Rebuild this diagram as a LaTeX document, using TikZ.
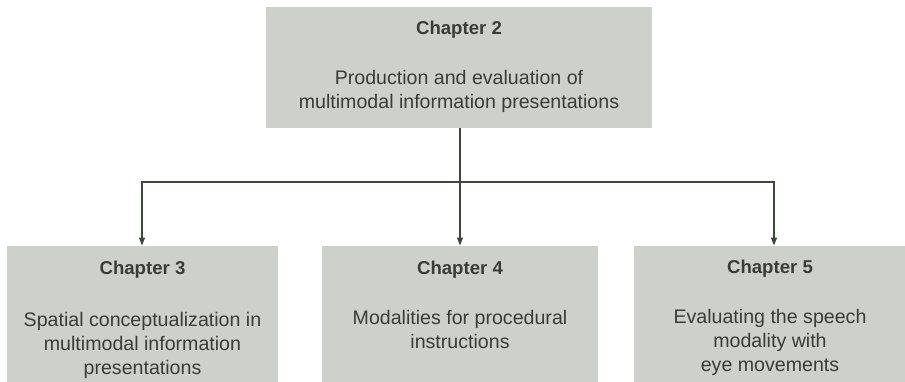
\documentclass[tikz,border=0pt]{standalone}
\usepackage{fontspec}
\setmainfont{Liberation Sans}
\usetikzlibrary{arrows.meta}
\definecolor{boxfill}{RGB}{206,208,203}
\definecolor{txt}{RGB}{58,60,58}
\definecolor{lin}{RGB}{62,70,62}
\tikzset{
  chbox/.style={fill=boxfill, draw=none, inner sep=0pt, anchor=north west},
  title/.style={anchor=base, text=txt, font=\fontsize{18.6bp}{24bp}\selectfont\bfseries, inner sep=0pt},
  body/.style={anchor=base, text=txt, align=center, font=\fontsize{19.6bp}{24bp}\selectfont, inner sep=0pt},
  arr/.style={draw=lin, line width=1.3bp, -{Triangle[length=8bp,width=6bp]}},
  ln/.style={draw=lin, line width=1.3bp}
}
\begin{document}
\begin{tikzpicture}[x=1bp,y=-1bp]
\useasboundingbox (0,0) rectangle (905,381);
% boxes
\node[chbox, minimum width=386bp, minimum height=121bp] (c2) at (266,7) {};
\node[chbox, minimum width=271bp, minimum height=150bp] (c3) at (7,245.5) {};
\node[chbox, minimum width=276bp, minimum height=150bp] (c4) at (322,245.5) {};
\node[chbox, minimum width=275bp, minimum height=150bp] (c5) at (634,245.5) {};
% texts
\node[title] (t2) at (459,34) {Chapter 2};
\node[body, anchor=north] (b2) at (459,70) {Production and evaluation of\\multimodal information presentations};
\node[title] (t3) at (142.5,274) {Chapter 3};
\node[body, anchor=north] (b3) at (142.5,312) {Spatial conceptualization in\\multimodal information\\presentations};
\node[title] (t4) at (460,274) {Chapter 4};
\node[body, anchor=north] (b4) at (460,310) {Modalities for procedural\\instructions};
\node[title] (t5) at (770,273) {Chapter 5};
\node[body, anchor=north] (b5) at (770,309) {Evaluating the speech\\modality with\\eye movements};
% connectors
\coordinate (j) at (460,182);
\draw[ln] (c2.south -| j) -- (j);
\draw[arr] (j) -| (c3.north -| 142,0);
\draw[arr] (j) -| (c5.north -| 774,0);
\draw[arr] (j) -- (c4.north -| j);
\end{tikzpicture}
\end{document}
